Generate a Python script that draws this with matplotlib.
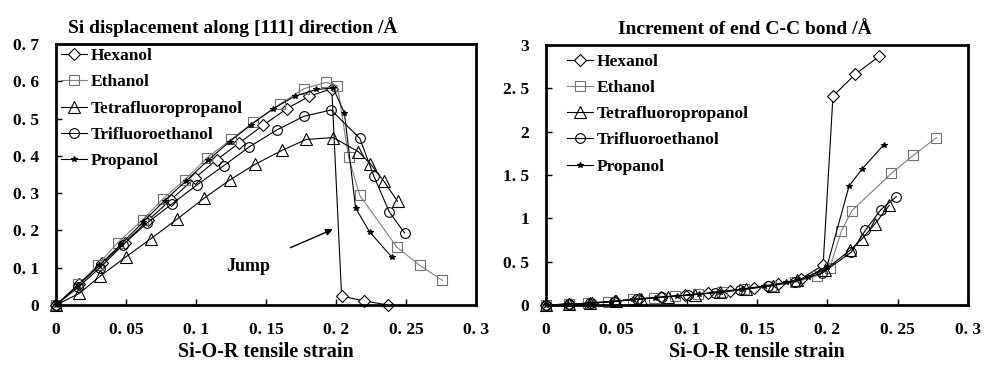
import matplotlib
matplotlib.use("Agg")
import matplotlib.pyplot as plt

plt.rcParams['font.family'] = ['Liberation Serif', 'DejaVu Serif']

series_names = ["Hexanol", "Ethanol", "Tetrafluoropropanol", "Trifluoroethanol", "Propanol"]

# ---- Left panel: Si displacement along [111] ----
hex_s_l = [0, 0.0165, 0.033, 0.049, 0.066, 0.082, 0.099, 0.115, 0.131, 0.148, 0.165, 0.181, 0.197, 0.204, 0.220, 0.237]
hex_v_l = [0, 0.055, 0.112, 0.167, 0.228, 0.282, 0.340, 0.390, 0.435, 0.482, 0.527, 0.560, 0.580, 0.024, 0.011, 0.0]

eth_s_l = [0, 0.016, 0.030, 0.044, 0.062, 0.0765, 0.092, 0.108, 0.125, 0.141, 0.160, 0.177, 0.193, 0.201, 0.209, 0.217, 0.2435, 0.260, 0.276]
eth_v_l = [0, 0.055, 0.108, 0.167, 0.229, 0.285, 0.336, 0.395, 0.444, 0.490, 0.539, 0.580, 0.597, 0.588, 0.396, 0.294, 0.155, 0.106, 0.066]

tet_s_l = [0, 0.0166, 0.0314, 0.0499, 0.0675, 0.0867, 0.106, 0.124, 0.142, 0.1616, 0.1787, 0.198, 0.216, 0.2245, 0.234, 0.244]
tet_v_l = [0, 0.031, 0.077, 0.129, 0.177, 0.231, 0.287, 0.335, 0.377, 0.415, 0.444, 0.449, 0.411, 0.379, 0.333, 0.278]

tri_s_l = [0, 0.016, 0.0314, 0.048, 0.065, 0.0825, 0.101, 0.120, 0.138, 0.158, 0.177, 0.1965, 0.217, 0.227, 0.238, 0.249]
tri_v_l = [0, 0.048, 0.100, 0.162, 0.220, 0.270, 0.323, 0.374, 0.424, 0.470, 0.506, 0.523, 0.447, 0.346, 0.250, 0.193]

pro_s_l = [0, 0.0155, 0.031, 0.0465, 0.062, 0.0775, 0.093, 0.1085, 0.124, 0.1395, 0.155, 0.1705, 0.186, 0.198, 0.206, 0.214, 0.224, 0.240]
pro_v_l = [0, 0.053, 0.107, 0.163, 0.222, 0.280, 0.333, 0.388, 0.438, 0.484, 0.526, 0.560, 0.578, 0.582, 0.515, 0.260, 0.196, 0.128]

# ---- Right panel: increment of end C-C bond ----
hex_s_r = [0, 0.0165, 0.033, 0.049, 0.066, 0.082, 0.099, 0.115, 0.131, 0.148, 0.165, 0.181, 0.197, 0.204, 0.220, 0.237]
hex_v_r = [0, 0.010, 0.025, 0.045, 0.070, 0.090, 0.115, 0.140, 0.165, 0.200, 0.240, 0.300, 0.460, 2.41, 2.665, 2.87]

eth_s_r = [0, 0.016, 0.030, 0.044, 0.062, 0.0765, 0.092, 0.108, 0.125, 0.141, 0.160, 0.177, 0.193, 0.2017, 0.210, 0.2175, 0.2455, 0.261, 0.2775]
eth_v_r = [0, 0.010, 0.020, 0.040, 0.065, 0.085, 0.105, 0.125, 0.150, 0.180, 0.220, 0.260, 0.340, 0.425, 0.857, 1.089, 1.518, 1.726, 1.93]

tet_s_r = [0, 0.0166, 0.0314, 0.0499, 0.0675, 0.0867, 0.106, 0.124, 0.142, 0.1616, 0.1787, 0.198, 0.216, 0.2245, 0.234, 0.244]
tet_v_r = [0, 0.010, 0.020, 0.045, 0.070, 0.095, 0.120, 0.150, 0.185, 0.225, 0.290, 0.400, 0.630, 0.760, 0.940, 1.150]

tri_s_r = [0, 0.016, 0.0314, 0.048, 0.065, 0.0825, 0.101, 0.120, 0.138, 0.158, 0.177, 0.1965, 0.217, 0.227, 0.238, 0.249]
tri_v_r = [0, 0.010, 0.020, 0.040, 0.065, 0.090, 0.115, 0.140, 0.175, 0.220, 0.270, 0.370, 0.610, 0.860, 1.100, 1.250]

pro_s_r = [0, 0.0155, 0.031, 0.0465, 0.062, 0.0775, 0.093, 0.1085, 0.124, 0.1395, 0.155, 0.1705, 0.186, 0.1997, 0.2154, 0.2244, 0.240]
pro_v_r = [0, 0.010, 0.020, 0.040, 0.066, 0.086, 0.106, 0.126, 0.155, 0.185, 0.220, 0.260, 0.320, 0.444, 1.37, 1.564, 1.846]

x_ticks = [0, 0.05, 0.1, 0.15, 0.2, 0.25, 0.3]
x_ticklabels = ["0", "0. 05", "0. 1", "0. 15", "0. 2", "0. 25", "0. 3"]
yl_ticks = [0, 0.1, 0.2, 0.3, 0.4, 0.5, 0.6, 0.7]
yl_ticklabels = ["0", "0. 1", "0. 2", "0. 3", "0. 4", "0. 5", "0. 6", "0. 7"]
yr_ticks = [0, 0.5, 1, 1.5, 2, 2.5, 3]
yr_ticklabels = ["0", "0. 5", "1", "1. 5", "2", "2. 5", "3"]

left_title = "Si displacement along [111] direction /Å"
right_title = "Increment of end C-C bond /Å"
xlabel = "Si-O-R tensile strain"

styles = [
    dict(marker='D', color='black', mfc='white', mec='black', ms=6),
    dict(marker='s', color='#808080', mfc='none', mec='#707070', ms=7.5),
    dict(marker='^', color='black', mfc='none', mec='black', ms=8),
    dict(marker='o', color='black', mfc='none', mec='black', ms=7),
    dict(marker='*', color='black', mfc='black', mec='black', ms=4),
]

fig = plt.figure(figsize=(9.84, 3.70), dpi=100)
axL = fig.add_axes([56/984, 65/370, 420/984, 261/370])
axR = fig.add_axes([546/984, 65/370, 422/984, 260/370])

left_data = [(hex_s_l, hex_v_l), (eth_s_l, eth_v_l), (tet_s_l, tet_v_l), (tri_s_l, tri_v_l), (pro_s_l, pro_v_l)]
right_data = [(hex_s_r, hex_v_r), (eth_s_r, eth_v_r), (tet_s_r, tet_v_r), (tri_s_r, tri_v_r), (pro_s_r, pro_v_r)]

legend_anchor = {0: (0.004, 0.998), 1: (0.041, 0.98)}

for i, (ax, data) in enumerate(((axL, left_data), (axR, right_data))):
    for name, (xs, ys), st in zip(series_names, data, styles):
        ax.plot(xs, ys, label=name, lw=0.8, mew=0.8, clip_on=False, **st)
    ax.set_xlim(0, 0.3)
    ax.set_xticks(x_ticks)
    ax.set_xticklabels(x_ticklabels)
    for sp in ax.spines.values():
        sp.set_linewidth(2.0)
    ax.tick_params(direction='in', length=4, width=1, labelsize=12.5, pad=12)
    for lab in ax.get_xticklabels() + ax.get_yticklabels():
        lab.set_fontweight('bold')
    ax.set_xlabel(xlabel, fontsize=14.5, fontweight='bold', labelpad=3)
    ax.legend(loc='upper left', bbox_to_anchor=legend_anchor[i], frameon=False,
              prop={'weight': 'bold', 'size': 12.5},
              handlelength=1.5, handletextpad=0.2, labelspacing=0.58,
              borderpad=0.2, borderaxespad=0.0)

axL.set_ylim(0, 0.7)
axL.set_yticks(yl_ticks)
axL.set_yticklabels(yl_ticklabels, fontweight='bold')
axR.set_ylim(0, 3)
axR.set_yticks(yr_ticks)
axR.set_yticklabels(yr_ticklabels, fontweight='bold')

axL.set_title(left_title, fontsize=14, fontweight='bold', x=0.42, pad=8)
axR.set_title(right_title, fontsize=14, fontweight='bold', x=0.47, pad=8)

axL.annotate("Jump", xy=(0.1977, 0.203), xytext=(0.137, 0.104),
             ha='center', va='center', fontsize=13, fontweight='bold',
             arrowprops=dict(arrowstyle='-|>', color='black', lw=1.0,
                             shrinkA=14, shrinkB=0, mutation_scale=10))

fig.savefig("out.png", dpi=100)
